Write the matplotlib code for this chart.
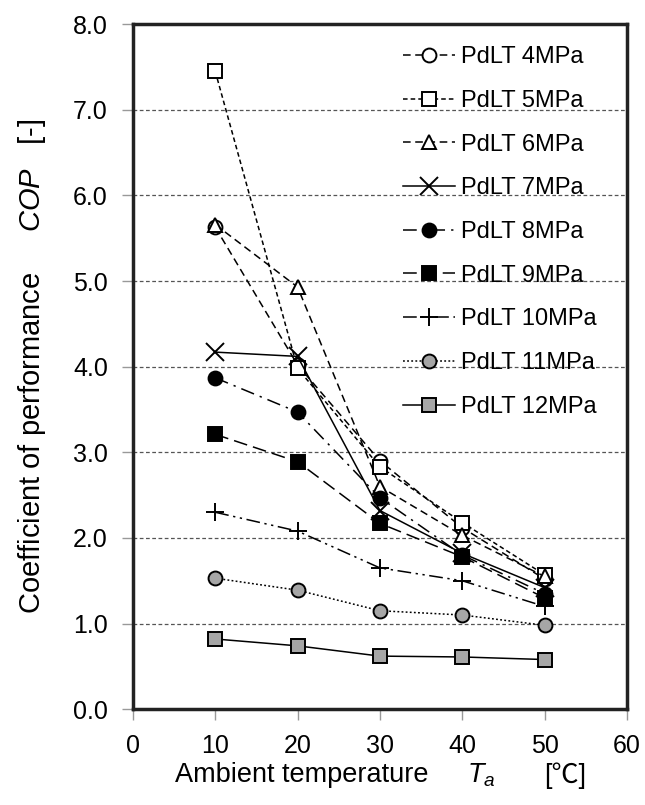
import numpy as np
import matplotlib
matplotlib.use('Agg')
import matplotlib.pyplot as plt

plt.rcParams['font.family'] = ['Liberation Sans', 'Noto Sans CJK JP', 'DejaVu Sans']
plt.rcParams['mathtext.fontset'] = 'custom'
plt.rcParams['mathtext.rm'] = 'Liberation Sans'
plt.rcParams['mathtext.it'] = 'Liberation Sans:italic'

# ambient temperature [C]
temps = [10, 20, 30, 40, 50]

# COP for each pressure
labels = ['PdLT 4MPa', 'PdLT 5MPa', 'PdLT 6MPa', 'PdLT 7MPa', 'PdLT 8MPa',
          'PdLT 9MPa', 'PdLT 10MPa', 'PdLT 11MPa', 'PdLT 12MPa']
cop_4 = [5.63, 4.02, 2.90, 2.12, 1.52]
cop_5 = [7.45, 3.98, 2.83, 2.18, 1.57]
cop_6 = [5.66, 4.93, 2.60, 2.03, 1.55]
cop_7 = [4.17, 4.12, 2.32, 1.82, 1.42]
cop_8 = [3.87, 3.47, 2.47, 1.80, 1.35]
cop_9 = [3.21, 2.89, 2.17, 1.78, 1.30]
cop_10 = [2.30, 2.08, 1.65, 1.50, 1.20]
cop_11 = [1.53, 1.39, 1.15, 1.10, 0.98]
cop_12 = [0.82, 0.74, 0.62, 0.61, 0.58]
series = [cop_4, cop_5, cop_6, cop_7, cop_8, cop_9, cop_10, cop_11, cop_12]

# estilos de cada serie
gris = '#a6a6a6'
estilos = [
    dict(marker='o', mfc='white', ls=(0, (5, 3))),
    dict(marker='s', mfc='white', ls=(0, (3, 2))),
    dict(marker='^', mfc='white', ls=(0, (5, 3))),
    dict(marker='x', mfc='none', ls='-'),
    dict(marker='o', mfc='black', ls=(0, (9, 4, 1.5, 4))),
    dict(marker='s', mfc='black', ls=(0, (9, 4))),
    dict(marker='+', mfc='none', ls=(0, (9, 3, 1.5, 3, 1.5, 3))),
    dict(marker='o', mfc=gris, ls=(0, (1.2, 1.5))),
    dict(marker='s', mfc=gris, ls='-'),
]

fig = plt.figure(figsize=(6.45, 8.05), dpi=100)
ax = fig.add_axes([0.206, 0.119, 0.766, 0.851])

for vals, lab, st in zip(series, labels, estilos):
    ms = 13 if st['marker'] in ('x', '+') else 10
    ax.plot(temps, vals, color='black', lw=1.1, linestyle=st['ls'],
            marker=st['marker'], markersize=ms, markerfacecolor=st['mfc'],
            markeredgecolor='black', markeredgewidth=1.4, label=lab)

ax.set_xlim(0, 60)
ax.set_ylim(0, 8)
ax.set_xticks(np.arange(0, 61, 10))
ax.set_yticks(np.arange(0, 8.1, 1))
ax.set_yticklabels(['%.1f' % v for v in np.arange(0, 8.1, 1)])
ax.yaxis.grid(True, color='#555555', linestyle=(0, (3, 2)), linewidth=0.9)
ax.set_axisbelow(True)

for sp in ax.spines.values():
    sp.set_linewidth(2.5)
    sp.set_color('#222222')
ax.tick_params(direction='out', length=8, width=1, color='#999999',
               labelsize=18, pad=10)

ax.set_ylabel('Coefficient of performance     $\\mathit{COP}$   [-]',
              fontsize=21, labelpad=18)

# etiqueta del eje x en tres partes (el signo de grados viene de la fuente CJK)
yl = 0.037
fig.text(0.271, yl, 'Ambient temperature', fontsize=19.5, va='center', ha='left')
fig.text(0.724, yl, '$\\mathit{T_a}$', fontsize=19.5, va='center', ha='left')
fig.text(0.843, yl, '[\u2103]', fontsize=19.5, va='center', ha='left',
         family=['Liberation Sans', 'Noto Sans CJK JP'])

leg = ax.legend(loc='upper left', frameon=False, fontsize=17,
                handlelength=2.2, handletextpad=0.25, labelspacing=0.92,
                borderpad=0, borderaxespad=0, bbox_to_anchor=(0.547, 0.968))

fig.savefig('out.png', dpi=100)
